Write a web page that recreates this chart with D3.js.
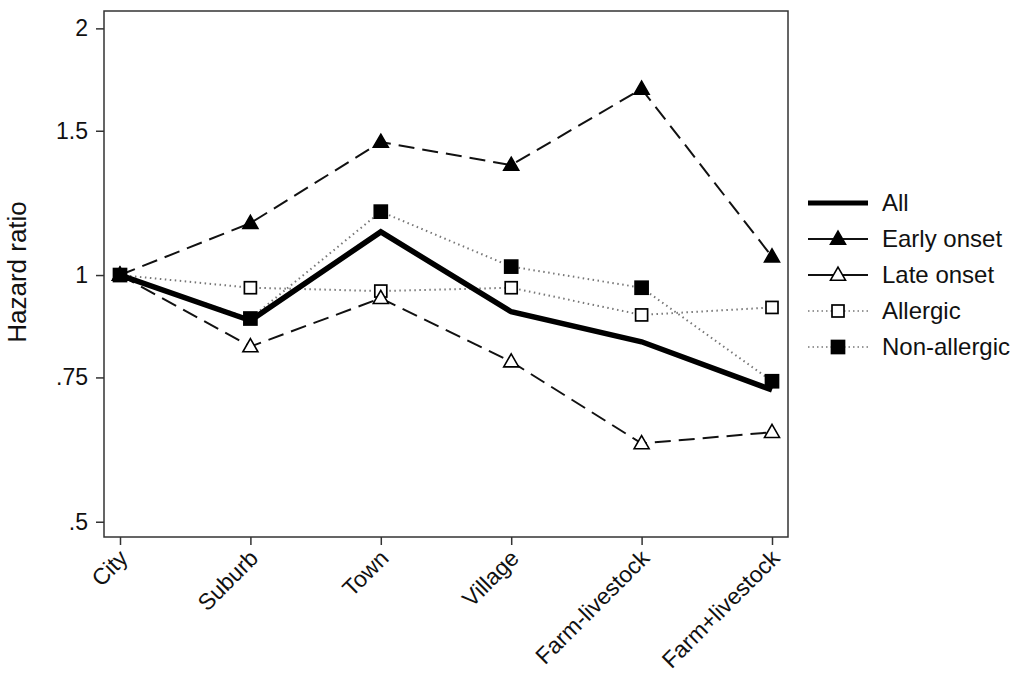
<!DOCTYPE html>
<html>
<head>
<meta charset="utf-8">
<script src="https://cdn.jsdelivr.net/npm/d3@7"></script>
<style>
  body { margin: 0; background: #fff; }
  text { font-family: "Liberation Sans", Arial, sans-serif; fill: #111; }
</style>
</head>
<body>
<svg width="1024" height="692"></svg>
<script>
const categories = ["City", "Suburb", "Town", "Village", "Farm-livestock", "Farm+livestock"];
const allValues = [1, 0.88, 1.129, 0.902, 0.829, 0.724];
const earlyOnset = [1, 1.157, 1.453, 1.362, 1.687, 1.053];
const lateOnset = [1, 0.818, 0.937, 0.784, 0.623, 0.643];
const allergic = [1, 0.965, 0.956, 0.965, 0.894, 0.913];
const nonAllergic = [1, 0.885, 1.195, 1.024, 0.965, 0.742];
const yTicks = [0.5, 0.75, 1, 1.5, 2];
const yTickLabels = [".5", ".75", "1", "1.5", "2"];

const series = [
  { name: "All", values: allValues, marker: null, dash: null, width: 5.5, color: "#000" },
  { name: "Early onset", values: earlyOnset, marker: "triFilled", dash: "16,8", width: 2, color: "#111" },
  { name: "Late onset", values: lateOnset, marker: "triOpen", dash: "16,8", width: 2, color: "#111" },
  { name: "Allergic", values: allergic, marker: "sqOpen", dash: "1.5,3.5", width: 2, color: "#777" },
  { name: "Non-allergic", values: nonAllergic, marker: "sqFilled", dash: "1.5,3.5", width: 2, color: "#777" }
];

const svg = d3.select("svg");
const plotLeft = 104, plotRight = 788, plotTop = 11, plotBottom = 537;

const x = d3.scalePoint().domain(categories).range([120, 772]);
const y = d3.scaleLog().domain([0.479, 2.10]).range([plotBottom, plotTop]);

// frame
svg.append("rect")
  .attr("x", plotLeft).attr("y", plotTop)
  .attr("width", plotRight - plotLeft).attr("height", plotBottom - plotTop)
  .attr("fill", "none").attr("stroke", "#333").attr("stroke-width", 1.5);

// y axis
const yAxis = svg.append("g").attr("transform", `translate(${plotLeft},0)`)
  .call(d3.axisLeft(y).tickValues(yTicks).tickFormat((d, i) => yTickLabels[i]).tickSize(8).tickPadding(8));
yAxis.select(".domain").remove();
yAxis.selectAll("line").attr("stroke", "#333").attr("stroke-width", 1.5);
yAxis.selectAll("text").style("font-size", "23px").style("font-family", "Liberation Sans, Arial, sans-serif").attr("fill", "#111");

// x axis
const xAxis = svg.append("g").attr("transform", `translate(0,${plotBottom})`)
  .call(d3.axisBottom(x).tickSize(8).tickPadding(4));
xAxis.select(".domain").remove();
xAxis.selectAll("line").attr("stroke", "#333").attr("stroke-width", 1.5);
xAxis.selectAll("text")
  .style("font-size", "23px").style("font-family", "Liberation Sans, Arial, sans-serif").attr("fill", "#111")
  .attr("text-anchor", "end")
  .attr("x", 0).attr("y", 0)
  .attr("dy", "0.35em")
  .attr("transform", "translate(3,17) rotate(-45)");

// y label
svg.append("text")
  .attr("transform", "translate(26,272) rotate(-90)")
  .attr("text-anchor", "middle")
  .style("font-size", "26px")
  .text("Hazard ratio");

const line = d3.line().x((d, i) => x(categories[i])).y(d => y(d));

function drawMarker(g, type, cx, cy) {
  if (type === "triFilled" || type === "triOpen") {
    const s = 15;
    const h = s * 0.87;
    g.append("path")
      .attr("d", `M${cx},${cy - h * 0.6}L${cx + s / 2},${cy + h * 0.4}L${cx - s / 2},${cy + h * 0.4}Z`)
      .attr("fill", type === "triFilled" ? "#000" : "#fff")
      .attr("stroke", "#000").attr("stroke-width", 1.6);
  } else if (type === "sqFilled" || type === "sqOpen") {
    const s = type === "sqFilled" ? 13 : 12;
    g.append("rect")
      .attr("x", cx - s / 2).attr("y", cy - s / 2)
      .attr("width", s).attr("height", s)
      .attr("fill", type === "sqFilled" ? "#000" : "#fff")
      .attr("stroke", "#000").attr("stroke-width", 1.7);
  }
}

// draw order: dotted and dashed first, All on top, markers last
const drawOrder = [3, 4, 1, 2, 0];
drawOrder.forEach(k => {
  const s = series[k];
  svg.append("path")
    .datum(s.values)
    .attr("d", line)
    .attr("fill", "none")
    .attr("stroke", s.color)
    .attr("stroke-width", s.width)
    .attr("stroke-dasharray", s.dash)
    .attr("stroke-linejoin", "miter");
});
const markerG = svg.append("g");
[3, 2, 1, 4].forEach(k => {
  const s = series[k];
  s.values.forEach((v, i) => drawMarker(markerG, s.marker, x(categories[i]), y(v)));
});

// legend
const legend = svg.append("g");
series.forEach((s, i) => {
  const ly = 203 + i * 36;
  const dotted = s.dash && s.dash.startsWith("1.5");
  legend.append("line")
    .attr("x1", 808).attr("x2", 868).attr("y1", ly).attr("y2", ly)
    .attr("stroke", s.color)
    .attr("stroke-width", s.name === "All" ? 5 : (dotted ? 1.5 : 2))
    .attr("stroke-dasharray", dotted ? "1.5,3" : null);
  if (s.marker) drawMarker(legend, s.marker, 838, ly);
  legend.append("text")
    .attr("x", 882).attr("y", ly).attr("dy", "0.35em")
    .style("font-size", "24px")
    .text(s.name);
});
</script>
</body>
</html>
